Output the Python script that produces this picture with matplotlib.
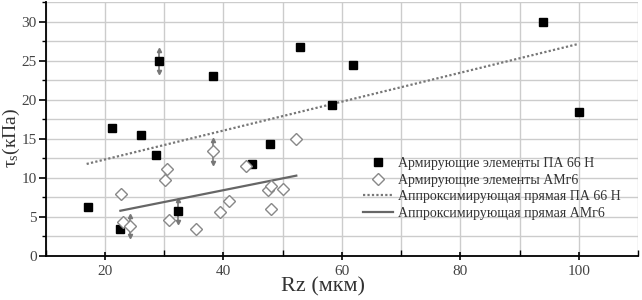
import numpy as np
import matplotlib.pyplot as plt
from matplotlib.ticker import MultipleLocator

plt.rcParams['font.family'] = ['Liberation Serif', 'DejaVu Serif']
plt.rcParams['mathtext.fontset'] = 'custom'
plt.rcParams['mathtext.rm'] = 'Liberation Serif'
plt.rcParams['mathtext.it'] = 'Liberation Serif'

# ПА 66 Н
pa_x = [17.1, 22.5, 21.2, 26.1, 29.1, 28.6, 32.3, 38.3, 44.8, 47.8, 52.9, 58.4, 61.9, 94.0, 100.0]
pa_y = [6.3, 3.4, 16.4, 15.5, 25.0, 12.9, 5.8, 23.1, 11.8, 14.4, 26.8, 19.4, 24.5, 30.0, 18.5]
# АМг6
am_x = [22.7, 23.0, 24.3, 30.4, 30.1, 30.8, 35.3, 38.3, 39.4, 41.0, 43.8, 47.6, 48.1, 50.1, 48.0, 52.2]
am_y = [7.9, 4.4, 3.8, 11.2, 9.7, 4.6, 3.5, 13.4, 5.7, 7.0, 11.6, 8.4, 9.0, 8.6, 6.0, 15.0]

# error bars on selected points
err_pa_x = [29.1, 32.3]
err_pa_y = [25.0, 5.8]
err_pa = [1.4, 1.4]
err_am_x = [24.3, 38.3]
err_am_y = [3.8, 13.4]
err_am = [1.3, 1.5]

# fit lines (endpoints)
fit_pa_x = [16.9, 100.0]
fit_pa_y = [11.8, 27.2]
fit_am_x = [22.6, 52.3]
fit_am_y = [5.8, 10.3]

fig = plt.figure(figsize=(6.42, 3.0), dpi=100)
ax = fig.add_axes([0.0713, 0.1467, 0.9225, 0.845])

ax.xaxis.set_major_locator(MultipleLocator(20))
ax.xaxis.set_minor_locator(MultipleLocator(10))
ax.yaxis.set_major_locator(MultipleLocator(5))
ax.yaxis.set_minor_locator(MultipleLocator(2.5))
ax.grid(True, which='both', color='#cccccc', linewidth=1.0)
ax.set_axisbelow(True)

gray = '#777777'
for ex, ey, ee in [(err_pa_x, err_pa_y, err_pa), (err_am_x, err_am_y, err_am)]:
    ex = np.array(ex); ey = np.array(ey); ee = np.array(ee)
    ax.vlines(ex, ey - ee, ey + ee, color=gray, linewidth=1.2, zorder=3)
    ax.plot(ex, ey + ee, '^', color=gray, ms=3, zorder=3)
    ax.plot(ex, ey - ee, 'v', color=gray, ms=3, zorder=3)

ax.plot(pa_x, pa_y, 's', color='black', ms=6, ls='none', zorder=4,
        label='Армирующие элементы ПА 66 Н')
ax.plot(am_x, am_y, 'D', mfc='white', mec='#888888', mew=1.0, ms=6.5, ls='none', zorder=4,
        label='Армирующие элементы АМг6')
ax.plot(fit_pa_x, fit_pa_y, ls=(0, (1, 1)), color='#777777', lw=1.6, zorder=3,
        label='Аппроксимирующая прямая ПА 66 Н')
ax.plot(fit_am_x, fit_am_y, '-', color='#666666', lw=1.6, zorder=3,
        label='Аппроксимирующая прямая АМг6')

ax.set_xlim(10, 110)
ax.set_ylim(0, 32.5)

for s in ['top', 'right']:
    ax.spines[s].set_visible(False)
for s in ['left', 'bottom']:
    ax.spines[s].set_linewidth(1.3)

ax.tick_params(axis='x', which='major', direction='inout', length=6, width=1.2,
               labelsize=11, labelcolor='#444444')
ax.tick_params(axis='x', which='minor', direction='in', length=4, width=1.0)
ax.tick_params(axis='y', which='major', direction='out', length=5, width=1.2, pad=1.5,
               labelsize=11, labelcolor='#444444')
ax.tick_params(axis='y', which='minor', direction='out', length=3, width=1.0)

ax.set_xlabel('Rz (мкм)', fontsize=16, color='#333333')
ax.xaxis.set_label_coords(0.468, -0.085)
fig.text(0.002, 0.54, r'$\tau_{\mathrm{s}}$(кПа)', fontsize=14, color='#333333',
         rotation=90, ha='left', va='center')

ax.legend(loc='upper left', bbox_to_anchor=(0.535, 0.39), frameon=False,
          fontsize=10, handlelength=2.2, handletextpad=0.35, labelspacing=0.25,
          borderpad=0, borderaxespad=0, labelcolor='#333333')

fig.savefig('out.png', dpi=100)
